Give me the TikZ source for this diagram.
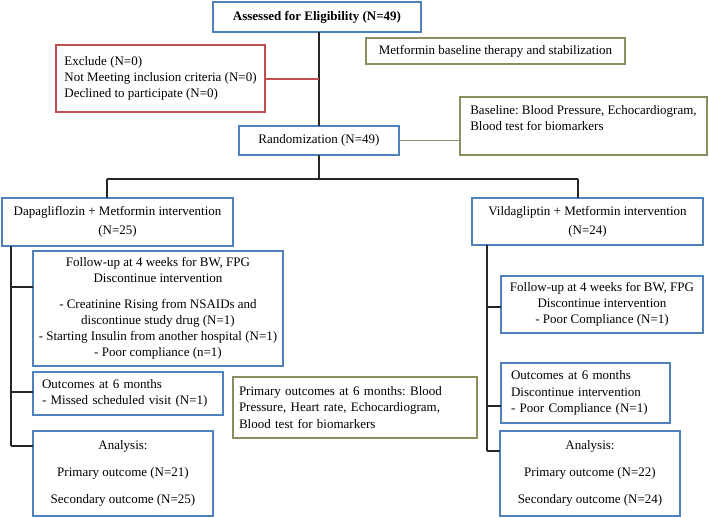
\documentclass[tikz,border=0pt]{standalone}
\usepackage{fontspec}
\setmainfont{Liberation Serif}
\frenchspacing
\definecolor{bblue}{RGB}{79,129,189}
\definecolor{bred}{RGB}{192,80,77}
\definecolor{bolive}{RGB}{140,142,96}
\begin{document}
\begin{tikzpicture}[x=1pt,y=-1pt,
  every node/.style={font=\fontsize{13}{16.3}\selectfont, inner sep=0pt, outer sep=0pt},
  bluebox/.style={draw=bblue, line width=1.2pt, fill=white},
  redbox/.style={draw=bred, line width=1.2pt, fill=white},
  olivebox/.style={draw=bolive, line width=1.2pt, fill=white},
  conn/.style={draw=black!85, line width=1.4pt},
  redconn/.style={draw=bred, line width=1.4pt},
  oliveconn/.style={draw=bolive, line width=1.4pt}]
\useasboundingbox (0,0) rectangle (709,518);
% boxes
\node[bluebox, minimum width=208pt, minimum height=30pt, align=center,
  font=\fontsize{13}{15}\selectfont\bfseries] (assess) at (317,17) {Assessed for Eligibility (N=49)};
\node[redbox, minimum width=209pt, minimum height=67pt, align=left] (excl) at (160.5,78.5)
  {Exclude (N=0)\\Not Meeting inclusion criteria (N=0)\\Declined to participate (N=0)};
\node[olivebox, minimum width=259pt, minimum height=26pt, align=left] (metf) at (495.5,51)
  {Metformin baseline therapy and stabilization};
\node[bluebox, minimum width=160pt, minimum height=29pt, align=center] (rand) at (319,140.5)
  {Randomization (N=49)};
\node[olivebox, minimum width=247pt, minimum height=58pt, align=left] (base) at (583.5,126)
  {Baseline: Blood Pressure, Echocardiogram,\\Blood test for biomarkers\\\mbox{}};
\node[bluebox, minimum width=231pt, minimum height=48pt, align=center] (dapa) at (117.5,222)
  {Dapagliflozin + Metformin intervention\\[2.4pt](N=25)};
\node[bluebox, minimum width=231pt, minimum height=47pt, align=center] (vild) at (587.5,221.5)
  {Vildagliptin + Metformin intervention\\[2.4pt](N=24)};
\node[bluebox, minimum width=250pt, minimum height=115pt, align=center] (fu1) at (158,308.5)
  {Follow-up at 4 weeks for BW, FPG\\Discontinue intervention\\[9pt]- Creatinine Rising from NSAIDs and\\discontinue study drug (N=1)\\- Starting Insulin from another hospital (N=1)\\- Poor compliance (n=1)};
\node[bluebox, minimum width=190pt, minimum height=43pt, inner xsep=9pt, text width=172pt, align=left] (out1) at (128,393.5)
  {Outcomes at 6 months\\- Missed scheduled visit (N=1)};
\node[bluebox, minimum width=180pt, minimum height=85pt, align=center] (an1) at (123,473.5)
  {Analysis:\\[10.5pt]Primary outcome (N=21)\\[10.5pt]Secondary outcome (N=25)};
\node[olivebox, minimum width=244pt, minimum height=61pt, inner xsep=6pt, text width=232pt, align=left] (prim) at (355,407.5)
  {Primary outcomes at 6 months: Blood\\Pressure, Heart rate, Echocardiogram,\\Blood test for biomarkers};
\node[bluebox, minimum width=202pt, minimum height=57pt, align=center] (fu2) at (602,304.5)
  {Follow-up at 4 weeks for BW, FPG\\Discontinue intervention\\- Poor Compliance (N=1)};
\node[bluebox, minimum width=169pt, minimum height=60pt, inner xsep=10pt, text width=149pt, align=left] (out2) at (585.5,393)
  {Outcomes at 6 months\\Discontinue intervention\\- Poor Compliance (N=1)};
\node[bluebox, minimum width=180pt, minimum height=85pt, align=center] (an2) at (590,473.5)
  {Analysis:\\[10.5pt]Primary outcome (N=22)\\[10.5pt]Secondary outcome (N=24)};
% junction coordinates
\coordinate (split) at (319,179);
\coordinate (sl) at (107,179);
\coordinate (sr) at (578,179);
\coordinate (ex) at (319,79);
\coordinate (l0) at (11,246);
\coordinate (l1) at (11,287);
\coordinate (l2) at (11,392);
\coordinate (l3) at (11,446);
\coordinate (r0) at (487,245);
\coordinate (r1) at (487,307);
\coordinate (r2) at (487,406);
\coordinate (r3) at (487,451);
% connectors
\draw[conn] (assess.south -| split) -- (rand.north -| split);
\draw[conn] (rand.south -| split) -- (split);
\draw[redconn] (excl.east |- ex) -- (ex);
\draw[oliveconn] (rand.east) -- (base.west |- rand.east);
\draw[conn] (sl) -- (sr);
\draw[conn] (sl) -- (dapa.north -| sl);
\draw[conn] (sr) -- (vild.north -| sr);
\draw[conn] (l0) -- (l3);
\draw[conn] (l1) -- (fu1.west |- l1);
\draw[conn] (l2) -- (out1.west |- l2);
\draw[conn] (l3) -- (an1.west |- l3);
\draw[conn] (r0) -- (r3);
\draw[conn] (r1) -- (fu2.west |- r1);
\draw[conn] (r2) -- (out2.west |- r2);
\draw[conn] (r3) -- (an2.west |- r3);
\end{tikzpicture}
\end{document}
